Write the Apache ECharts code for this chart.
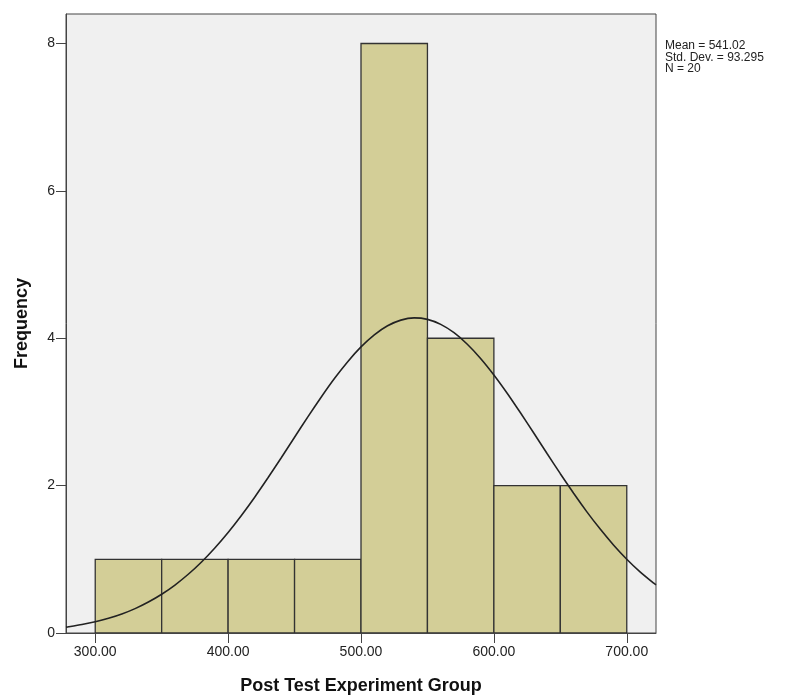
<!DOCTYPE html>
<html>
<head>
<meta charset="utf-8">
<script src="https://cdn.jsdelivr.net/npm/echarts@6/dist/echarts.min.js"></script>
<style>
  html, body { margin: 0; padding: 0; background: #fff; }
  #chart-area { width: 792px; height: 697px; }
</style>
</head>
<body>
<div id="chart-area"></div>
<script>
// histogram bins: start, end, frequency
const binStart = [300, 350, 400, 450, 500, 550, 600, 650]
const binEnd = [350, 400, 450, 500, 550, 600, 650, 700]
const binCount = [1, 1, 1, 1, 8, 4, 2, 2]

// normal curve
const curveX = [278, 280, 290, 300, 310, 320, 330, 340, 350, 360, 370, 380, 390, 400, 410, 420, 430, 440, 450, 460, 470, 480, 490, 500,
	510, 520, 530, 540, 550, 560, 570, 580, 590, 600, 610, 620, 630, 640, 650, 660, 670, 680, 690, 700, 710, 720, 722]
const curveY = [0.080, 0.085, 0.115, 0.152, 0.199, 0.258, 0.331, 0.420, 0.526, 0.651, 0.797, 0.964, 1.154, 1.364, 1.595, 1.843, 2.106, 2.379, 2.657, 2.933, 3.200, 3.453, 3.682, 3.882,
	4.046, 4.169, 4.246, 4.276, 4.256, 4.188, 4.075, 3.919, 3.726, 3.502, 3.254, 2.988, 2.714, 2.436, 2.162, 1.896, 1.644, 1.410, 1.195, 1.001, 0.829, 0.679, 0.652]

const xTicks = [300, 400, 500, 600, 700]
const yTicks = [0, 2, 4, 6, 8]
const statsText = ['Mean = 541.02', 'Std. Dev. = 93.295', 'N = 20']

const myChart = echarts.init(document.getElementById('chart-area'))
const font = 'Liberation Sans, Arial, sans-serif'

let option = {
	animation: false,
	textStyle: { fontFamily: font },
	grid: {
		left: 66,
		top: 14,
		width: 590,
		height: 619,
		outerBoundsMode: 'none',
		containLabel: false,
		show: true,
		backgroundColor: '#f0f0f0',
		borderColor: '#444',
		borderWidth: 1
	},
	xAxis: {
		type: 'value',
		min: 278,
		max: 722,
		name: 'Post Test Experiment Group',
		nameLocation: 'middle',
		nameGap: 44,
		nameTextStyle: { fontSize: 18, fontWeight: 'bold', color: '#111', fontFamily: font },
		axisLine: { show: true, lineStyle: { color: '#444' } },
		axisTick: { show: true, length: 10, customValues: xTicks, lineStyle: { color: '#444' } },
		axisLabel: {
			customValues: xTicks,
			formatter: (v) => v.toFixed(2),
			fontSize: 14,
			color: '#222',
			margin: 12
		},
		splitLine: { show: false }
	},
	yAxis: {
		type: 'value',
		min: 0,
		max: 8.4,
		name: 'Frequency',
		nameLocation: 'middle',
		nameGap: 35,
		nameTextStyle: { fontSize: 18, fontWeight: 'bold', color: '#111', fontFamily: font },
		axisLine: { show: true, lineStyle: { color: '#444' } },
		axisTick: { show: true, length: 10, customValues: yTicks, lineStyle: { color: '#444' } },
		axisLabel: { customValues: yTicks, fontSize: 14, color: '#222', margin: 11 },
		splitLine: { show: false }
	},
	graphic: [{
		type: 'text',
		left: 665,
		top: 40,
		style: {
			text: statsText.join('\n'),
			font: '12px ' + font,
			lineHeight: 11.5,
			fill: '#222'
		}
	}],
	series: [
		{
			type: 'custom',
			clip: true,
			renderItem: (params, api) => {
				const p0 = api.coord([api.value(0), api.value(2)])
				const p1 = api.coord([api.value(1), 0])
				return {
					type: 'rect',
					shape: { x: p0[0], y: p0[1], width: p1[0] - p0[0], height: p1[1] - p0[1] },
					style: { fill: '#d3ce97', stroke: '#333', lineWidth: 1.3 }
				}
			},
			encode: { x: [0, 1], y: 2 },
			data: binStart.map((s, i) => [s, binEnd[i], binCount[i]])
		},
		{
			type: 'line',
			smooth: 0.2,
			symbol: 'none',
			clip: true,
			lineStyle: { color: '#222', width: 1.6 },
			data: curveX.map((x, i) => [x, curveY[i]]),
			z: 3
		}
	]
}
option && myChart.setOption(option)
</script>
</body>
</html>
